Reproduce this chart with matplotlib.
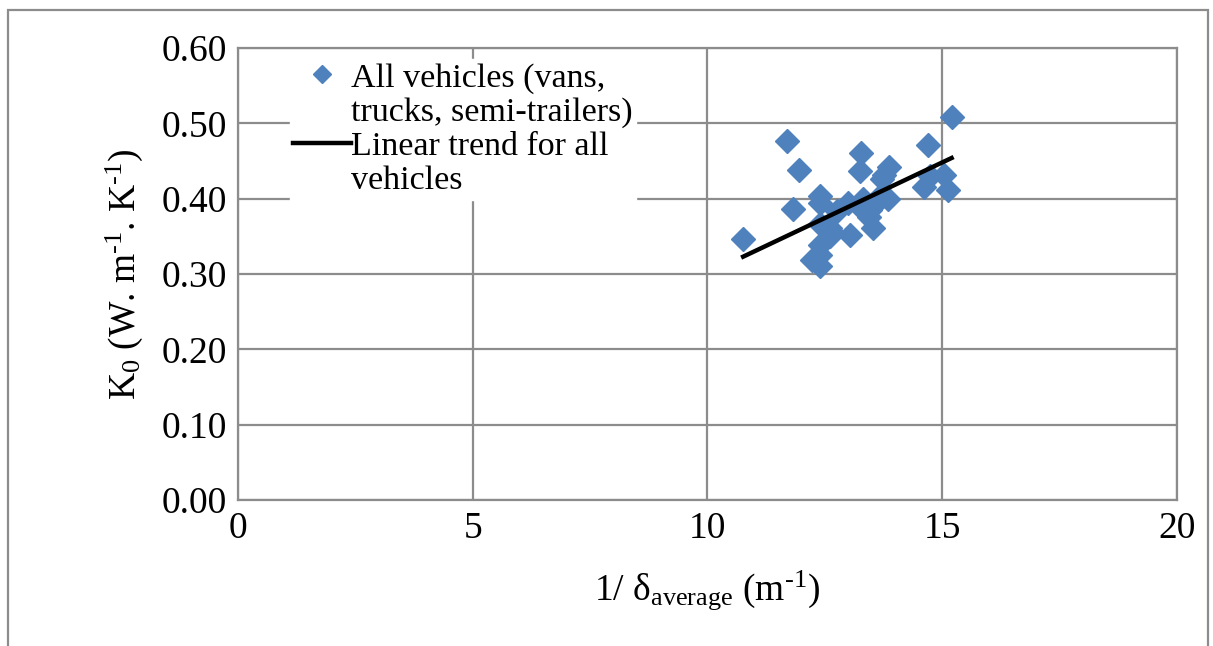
import numpy as np
import matplotlib
matplotlib.use('Agg')
import matplotlib.pyplot as plt
from matplotlib.lines import Line2D
from matplotlib.patches import Rectangle

plt.rcParams['font.family'] = ['Liberation Serif', 'DejaVu Serif']
plt.rcParams['mathtext.fontset'] = 'custom'
plt.rcParams['mathtext.rm'] = 'Liberation Serif'
plt.rcParams['mathtext.it'] = 'Liberation Serif:italic'

# data
inv_delta = [15.20, 11.69, 14.70, 11.95, 13.27, 13.25, 13.87, 13.77, 13.72,
             14.61, 14.74, 15.04, 15.13, 12.40, 12.40, 11.83, 13.00, 12.75,
             13.32, 13.85, 13.46, 13.43, 13.60, 12.40, 12.61, 13.53, 13.04,
             12.61, 10.76, 12.40, 12.40, 12.22, 12.40, 12.66, 13.20, 13.70]
k0 = [0.508, 0.477, 0.471, 0.438, 0.461, 0.437, 0.442, 0.431, 0.426,
      0.415, 0.430, 0.431, 0.412, 0.403, 0.394, 0.386, 0.394, 0.383,
      0.400, 0.400, 0.385, 0.376, 0.394, 0.367, 0.361, 0.361, 0.352,
      0.350, 0.347, 0.339, 0.325, 0.319, 0.310, 0.356, 0.391, 0.405]
trend_x = [10.76, 15.20]
trend_y = [0.323, 0.454]

# legend text is wrapped like in the original (marker next to the first line)
legend_lines = ['All vehicles (vans,', 'trucks, semi-trailers)',
                'Linear trend for all', 'vehicles']

fig = plt.figure(figsize=(12.13, 6.46), dpi=100)
ax = fig.add_axes([0.1962, 0.226, 0.7741, 0.6997])

pts, = ax.plot(inv_delta, k0, linestyle='none', marker='D', ms=12.5,
               color='#4F81BD', zorder=3)
trend, = ax.plot(trend_x, trend_y, color='black', lw=3.2, zorder=4)

ax.set_xlim(0, 20)
ax.set_ylim(0, 0.6)
ax.set_xticks([0, 5, 10, 15, 20])
ax.set_yticks(np.arange(0, 0.61, 0.1))
ax.set_yticklabels(['%.2f' % v for v in np.arange(0, 0.61, 0.1)])
ax.tick_params(labelsize=27, length=0, pad=8, colors='black')
ax.grid(True, color='#8c8c8c', lw=1.6)
ax.set_axisbelow(True)
for s in ax.spines.values():
    s.set_color('#8c8c8c')
    s.set_linewidth(1.6)

ax.set_xlabel(r'1/ δ$_{\mathrm{average}}$ (m$^{\text{-1}}$)', fontsize=27, labelpad=16)
ax.set_ylabel(r'K$_{\mathrm{0}}$ (W. m$^{\text{-1}}$. K$^{\text{-1}}$)', fontsize=27, labelpad=12)

blank = Line2D([], [], linestyle='none')
leg = ax.legend([pts, blank, trend, blank], legend_lines,
                loc='upper left', bbox_to_anchor=(0.037, 1.013), fontsize=24.5,
                frameon=True, fancybox=False, edgecolor='white', framealpha=1,
                handlelength=1.7, handletextpad=0.0, borderpad=0.1,
                labelspacing=0.1, markerscale=0.75)
leg.set_zorder(2)  # keep the top spine drawn over the legend box

fig.patches.append(Rectangle((8 / 1213, -0.1), 1200 / 1213, 1.1 - 10 / 646,
                             transform=fig.transFigure, fill=False,
                             edgecolor='#8c8c8c', lw=1.6))

fig.savefig('out.png', dpi=100)
